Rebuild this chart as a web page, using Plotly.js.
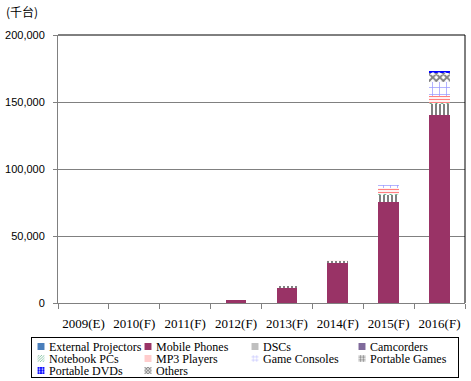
<!DOCTYPE html>
<html>
<head>
<meta charset="utf-8">
<script src="https://cdn.plot.ly/plotly-3.0.1.min.js"></script>
<style>html,body{margin:0;padding:0;background:#fff;}#chart{width:471px;height:381px;}</style>
</head>
<body>
<div id="chart"></div>
<script>
var categories = ['2009(E)', '2010(F)', '2011(F)', '2012(F)', '2013(F)', '2014(F)', '2015(F)', '2016(F)'];
var externalProjectors = [0, 0, 0, 0, 0, 0, 0, 0];
var mobilePhones = [0, 0, 0, 2200, 11400, 29600, 75600, 140300];
var dscs = [0, 0, 0, 0, 1500, 1800, 5000, 8000];
var camcorders = [0, 0, 0, 0, 0, 0, 0, 0];
var notebookPCs = [0, 0, 0, 0, 0, 300, 700, 1200];
var mp3Players = [0, 0, 0, 0, 0, 300, 4200, 5000];
var gameConsoles = [0, 0, 0, 0, 0, 300, 2500, 10500];
var portableGames = [0, 0, 0, 0, 0, 0, 0, 0];
var others = [0, 0, 0, 0, 0, 0, 0, 6300];
var portableDVDs = [0, 0, 0, 0, 0, 0, 0, 1900];
var yTickValues = [0, 50000, 100000, 150000, 200000];

function bar(name, y, rank, color, pattern) {
  var m = {color: color, line: {width: 0}};
  if (pattern) m.pattern = pattern;
  return {type: 'bar', name: name, x: categories, y: y, marker: m, legendrank: rank, hoverinfo: 'skip'};
}

var traces = [
  bar('External Projectors', externalProjectors, 1, '#4A7EBB'),
  bar('Mobile Phones', mobilePhones, 2, '#993366'),
  bar('DSCs', dscs, 3, '#ffffff', {shape: '|', fgcolor: '#808080', bgcolor: '#ffffff', size: 4, solidity: 0.5}),
  bar('Camcorders', camcorders, 4, '#7F6A9B'),
  bar('Notebook PCs', notebookPCs, 5, '#ffffff', {shape: '/', fgcolor: '#339966', bgcolor: '#ffffff', size: 4, solidity: 0.3}),
  bar('MP3 Players', mp3Players, 6, '#ffffff', {shape: '-', fgcolor: '#FF8080', bgcolor: '#ffffff', size: 3, solidity: 0.4}),
  bar('Game Consoles', gameConsoles, 7, '#ffffff', {shape: '+', fgcolor: '#9999FF', bgcolor: '#ffffff', size: 7, solidity: 0.2}),
  bar('Portable Games', portableGames, 8, '#ffffff', {shape: '.', fgcolor: '#808080', bgcolor: '#ffffff', size: 6, solidity: 0.5}),
  bar('Others', others, 10, '#ffffff', {shape: 'x', fgcolor: '#808080', bgcolor: '#ffffff', size: 5, solidity: 0.6}),
  bar('Portable DVDs', portableDVDs, 9, '#0000FF', {shape: '.', fgcolor: '#ffffff', bgcolor: '#0000FF', size: 6, solidity: 0.3})
];

var serif = 'Liberation Serif, Times New Roman, serif';

var layout = {
  width: 471, height: 381,
  margin: {l: 58, r: 6, t: 35, b: 78, autoexpand: false},
  paper_bgcolor: '#ffffff', plot_bgcolor: '#ffffff',
  barmode: 'stack', bargap: 0.59,
  font: {family: serif, size: 12, color: '#000000'},
  title: {text: '(千台)', x: 6 / 471, xref: 'container', xanchor: 'left', y: 1 - 13 / 381, yref: 'container', yanchor: 'middle',
    font: {family: 'Noto Sans CJK TC, Noto Sans CJK JP, sans-serif', size: 12, color: '#000'}},
  xaxis: {type: 'category', tickson: 'boundaries', ticks: 'outside', ticklen: 5, tickcolor: '#808080', tickwidth: 1,
    showline: true, linecolor: '#808080', linewidth: 1, showgrid: false, ticklabelstandoff: 8, tickangle: 0,
    tickfont: {family: serif, size: 13, color: '#000'}, fixedrange: true},
  yaxis: {range: [0, 200000], tickvals: yTickValues, tickformat: ',d', ticks: 'outside', ticklen: 4, tickcolor: '#808080',
    showline: true, linecolor: '#808080', linewidth: 1, gridcolor: '#808080', gridwidth: 1, zeroline: false,
    ticklabelstandoff: 6, tickfont: {family: 'Liberation Sans Narrow, Liberation Sans, sans-serif', size: 11, color: '#000'}, fixedrange: true},
  showlegend: true,
  legend: {orientation: 'h', traceorder: 'normal', x: (31 - 58) / 407, xanchor: 'left', xref: 'paper',
    y: -(337 - 303) / 268, yanchor: 'top', yref: 'paper', entrywidth: 62, entrywidthmode: 'pixels',
    bordercolor: '#000000', borderwidth: 1, bgcolor: '#ffffff',
    font: {family: serif, size: 12, color: '#000'}},
  shapes: [
    {type: 'line', xref: 'paper', yref: 'paper', x0: 0, x1: 1, y0: 1, y1: 1, line: {color: '#000', width: 1}, layer: 'above'},
    {type: 'line', xref: 'paper', yref: 'paper', x0: 1, x1: 1, y0: 0, y1: 1, line: {color: '#000', width: 1}, layer: 'above'}
  ]
};

function compactLegend() {
  var gd = document.getElementById('chart');
  var items = gd.querySelectorAll('.legend .traces');
  var rowsY = [];
  var parsed = [];
  items.forEach(function (it) {
    var m = /translate\(\s*([-\d.e]+)[ ,]+([-\d.e]+)\s*\)/.exec(it.getAttribute('transform') || '');
    if (!m) return;
    var x = parseFloat(m[1]), y = parseFloat(m[2]);
    parsed.push({el: it, x: x, y: y});
    if (rowsY.indexOf(y) < 0) rowsY.push(y);
  });
  rowsY.sort(function (a, b) { return a - b; });
  var rowGap = 12, shiftX = -11, shiftY = -6;
  parsed.forEach(function (p) {
    var r = rowsY.indexOf(p.y);
    p.el.setAttribute('transform', 'translate(' + (p.x + shiftX) + ',' + (rowsY[0] + shiftY + r * rowGap) + ')');
    var t = p.el.querySelector('text.legendtext');
    if (t) t.setAttribute('x', 28);
    p.el.querySelectorAll('.legendpoints path').forEach(function (path) {
      var orig = path.getAttribute('transform') || '';
      path.setAttribute('transform', orig + ' scale(0.58)');
    });
  });
  var bg = gd.querySelector('.legend rect.bg');
  if (bg) {
    bg.setAttribute('width', 427);
    bg.setAttribute('height', 40);
  }
}

Plotly.newPlot('chart', traces, layout, {staticPlot: true, displayModeBar: false}).then(compactLegend);
</script>
</body>
</html>
